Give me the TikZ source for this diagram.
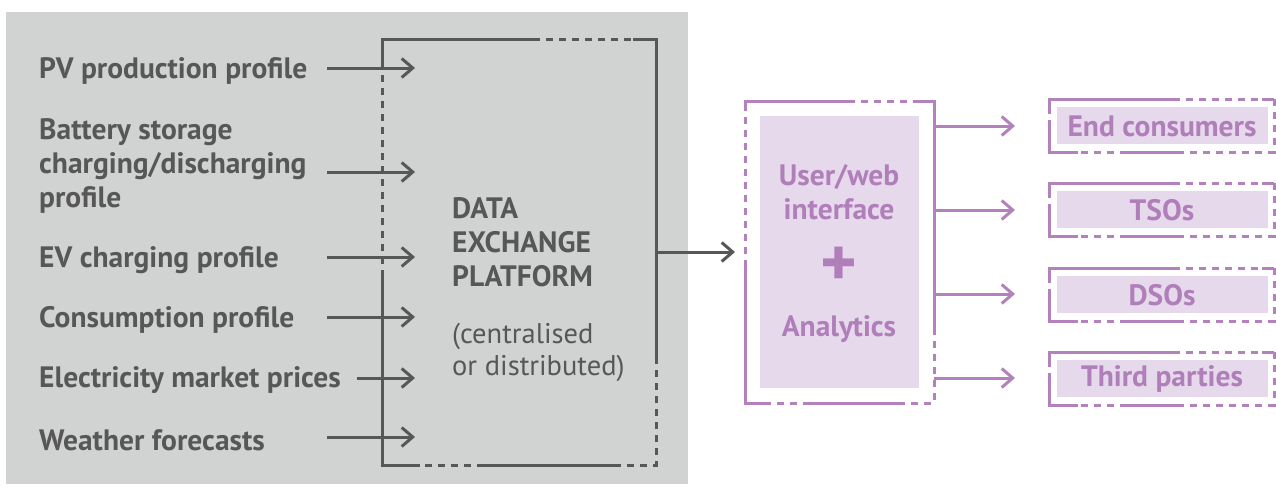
\documentclass[tikz,border=0pt]{standalone}
\usepackage{fontspec}
\setmainfont{PT Sans}
\usetikzlibrary{arrows.meta}
\definecolor{bggrey}{HTML}{D1D3D2}
\definecolor{dkgrey}{HTML}{575757}
\definecolor{purl}{HTML}{B382BC}
\definecolor{purfill}{HTML}{E6D9EC}
\definecolor{purtext}{HTML}{B07FBA}
\tikzset{
  lbl/.style={anchor=west, font=\bfseries\fontsize{29.5}{34}\selectfont, text=dkgrey, align=left, inner sep=0pt},
  reg/.style={anchor=west, font=\fontsize{28.5}{32}\selectfont, text=dkgrey, align=left, inner sep=0pt},
  plbl/.style={font=\bfseries\fontsize{29.5}{34}\selectfont, text=purtext, align=center, inner sep=0pt},
  gline/.style={draw=dkgrey, line width=3pt},
  gdash/.style={gline, dash pattern=on 7pt off 6pt},
  garrow/.style={gline, -{Straight Barb[length=11pt,width=19pt,line width=3pt]}},
  pline/.style={draw=purl, line width=3pt},
  pdash/.style={pline, dash pattern=on 7pt off 6pt},
  parrow/.style={pline, -{Straight Barb[length=11pt,width=19pt,line width=3pt]}},
}
\begin{document}
\begin{tikzpicture}[x=1pt,y=-1pt]
\useasboundingbox (0,0) rectangle (1276,487);
\fill[bggrey] (6,12) rectangle (688,484);

% left labels
\node[lbl] (l1) at (39,71) {PV production profile};
\node[lbl] (l2) at (39,166) {Battery storage\\charging/discharging\\profile};
\node[lbl] (l3) at (39,260) {EV charging profile};
\node[lbl] (l4) at (39,320) {Consumption profile};
\node[lbl] (l5) at (39,380) {Electricity market prices};
\node[lbl] (l6) at (39,440) {Weather forecasts};

% arrow coordinates
\coordinate (s1) at (327,68);  \coordinate (e1) at (415,68);
\coordinate (s2) at (327,172); \coordinate (e2) at (415,172);
\coordinate (s3) at (327,257); \coordinate (e3) at (415,257);
\coordinate (s4) at (327,317); \coordinate (e4) at (415,317);
\coordinate (s5) at (357,378); \coordinate (e5) at (415,378);
\coordinate (s6) at (327,437); \coordinate (e6) at (415,437);
\foreach \i in {1,...,6} {\draw[garrow] (s\i) -- (e\i);}

% data exchange platform frame
\draw[gline] (382,63) -- (382,40) -- (533,40);
\draw[gdash] (533,40) -- (633,40);
\draw[gline] (633,40) -- (656,40) -- (656,357);
\draw[gdash] (656,357) -- (656,465) -- (615,465);
\draw[gline] (615,465) -- (484,465);
\draw[gdash] (484,465) -- (420,465);
\draw[gline] (420,465) -- (382,465) -- (382,277);
\draw[gdash] (382,277) -- (382,63);

\node[lbl] (dep) at (452,242) {DATA\\EXCHANGE\\PLATFORM};
\node[reg] (cd) at (452,352) {(centralised\\or distributed)};

\coordinate (depout) at (656,252);
\coordinate (uwin) at (735,252);
\draw[garrow] (depout) -- (uwin);

% user/web interface frame
\draw[pline] (745,110) -- (745,101) -- (848,101);
\draw[pdash] (848,101) -- (916,101);
\draw[pline] (916,101) -- (934,101) -- (934,328);
\draw[pdash] (934,328) -- (934,403) -- (902,403);
\draw[pline] (902,403) -- (810,403);
\draw[pdash] (810,403) -- (770,403);
\draw[pline] (770,403) -- (745,403) -- (745,267);
\draw[pdash] (745,267) -- (745,110);
\fill[purfill] (760,116) rectangle (919,388);
\node[plbl] (uw) at (839,192) {User/web\\interface};
\node[plbl, font=\bfseries\fontsize{70}{70}\selectfont] (plus) at (839,267) {+};
\node[plbl] (an) at (839,329) {Analytics};

% right boxes
\foreach \t/\name/\txt in {99/r1/End consumers, 183/r2/TSOs, 268/r3/DSOs, 352/r4/Third parties} {
  \draw[pline] (1049,\t+11) -- (1049,\t) -- (1173,\t);
  \draw[pdash] (1173,\t) -- (1262,\t);
  \draw[pline] (1262,\t) -- (1274,\t);
  \draw[pdash] (1274,\t) -- (1274,\t+53) -- (1177,\t+53);
  \draw[pline] (1177,\t+53) -- (1127,\t+53);
  \draw[pdash] (1127,\t+53) -- (1078,\t+53);
  \draw[pline] (1078,\t+53) -- (1049,\t+53) -- (1049,\t+28);
  \draw[pdash] (1049,\t+28) -- (1049,\t+11);
  \fill[purfill] (1057,\t+8) rectangle (1268,\t+45);
  \node[plbl] (\name) at (1162,\t+27) {\txt};
}

\coordinate (o1) at (934,126); \coordinate (t1) at (1015,126);
\coordinate (o2) at (934,210); \coordinate (t2) at (1015,210);
\coordinate (o3) at (934,294); \coordinate (t3) at (1015,294);
\coordinate (o4) at (934,378); \coordinate (t4) at (1015,378);
\foreach \i in {1,...,4} {\draw[parrow] (o\i) -- (t\i);}
\end{tikzpicture}
\end{document}
